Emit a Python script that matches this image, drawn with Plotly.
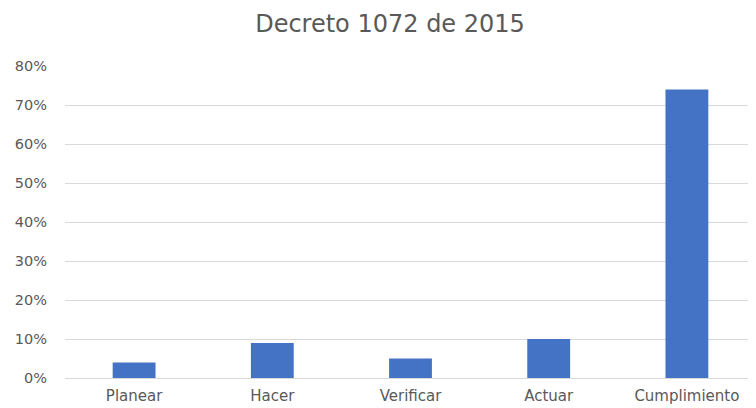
import plotly.graph_objects as go

categories = ["Planear", "Hacer", "Verificar", "Actuar", "Cumplimiento"]
values = [0.04, 0.09, 0.05, 0.10, 0.74]
y_ticks = [0, 0.1, 0.2, 0.3, 0.4, 0.5, 0.6, 0.7, 0.8]
y_tick_labels = ["0%", "10%", "20%", "30%", "40%", "50%", "60%", "70%", "80%"]

fig = go.Figure(go.Bar(x=categories, y=values, marker=dict(color="#4472C4", line=dict(width=0))))

# page body has an 8px margin, so the figure is sized/offset to compensate
fig.update_layout(
    width=748, height=400,
    margin=dict(l=57, r=0, t=58, b=30),
    paper_bgcolor="white", plot_bgcolor="white",
    title=dict(text="Decreto 1072 de 2015", x=382/748, xanchor="center", y=1 - 16/400, yanchor="middle",
               font=dict(family="DejaVu Sans, sans-serif", size=24, color="#595959")),
    bargap=0.69,
    showlegend=False,
    font=dict(family="DejaVu Sans, sans-serif", size=14, color="#595959"),
)
fig.update_yaxes(range=[0, 0.8], tickvals=y_ticks, ticktext=y_tick_labels, showgrid=True,
                 gridcolor="#D9D9D9", gridwidth=1, zeroline=False, showline=False, ticks="",
                 ticklabelstandoff=17, tickfont=dict(size=14.5), automargin=False)
fig.update_xaxes(showgrid=False, showline=True, linecolor="#D9D9D9", ticks="", ticklabelstandoff=4,
                 tickfont=dict(size=15), automargin=False)

fig.write_html("out.html")
